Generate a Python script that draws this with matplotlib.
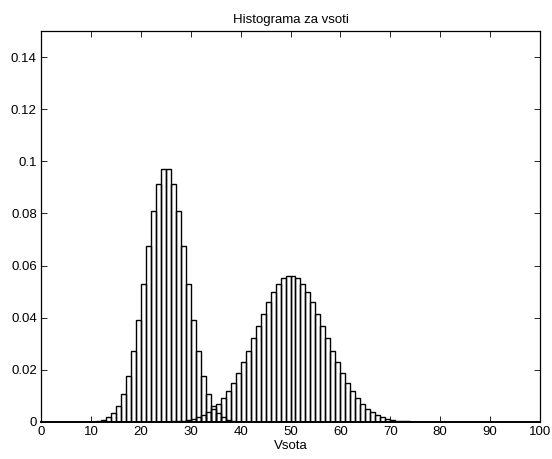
import matplotlib
matplotlib.use('Agg')
import matplotlib.pyplot as plt
from matplotlib.ticker import FormatStrFormatter

# prva vsota (levi vrh)
bins_a = list(range(11, 39))
vals_a = [0.0004, 0.0009, 0.0018, 0.0035, 0.0063, 0.0109, 0.0178, 0.0271,
          0.0391, 0.0529, 0.0674, 0.0809, 0.0913, 0.0970, 0.0970, 0.0913,
          0.0809, 0.0674, 0.0529, 0.0391, 0.0271, 0.0178, 0.0109, 0.0063,
          0.0035, 0.0018, 0.0009, 0.0004]

# druga vsota (desni vrh)
bins_b = list(range(26, 74))
vals_b = [0.0002, 0.0004, 0.0005, 0.0008, 0.0013, 0.0018, 0.0026, 0.0037,
          0.0051, 0.0069, 0.0091, 0.0118, 0.0150, 0.0187, 0.0229, 0.0274,
          0.0321, 0.0369, 0.0416, 0.0460, 0.0498, 0.0529, 0.0551, 0.0562,
          0.0562, 0.0551, 0.0529, 0.0498, 0.0460, 0.0416, 0.0369, 0.0321,
          0.0274, 0.0229, 0.0187, 0.0150, 0.0118, 0.0091, 0.0069, 0.0051,
          0.0037, 0.0026, 0.0018, 0.0013, 0.0008, 0.0005, 0.0004, 0.0002]

x_ticks = list(range(0, 101, 10))
y_ticks = [0, 0.02, 0.04, 0.06, 0.08, 0.1, 0.12, 0.14]


def main():
    plt.rcParams['font.family'] = ['Liberation Sans', 'DejaVu Sans']
    plt.rcParams['font.size'] = 9.5
    fig = plt.figure(figsize=(5.52, 4.59), dpi=100)
    ax = fig.add_axes([41 / 552, 37 / 459, 499 / 552, 391 / 459])

    ax.bar(bins_a, vals_a, width=1, align='edge', facecolor='none',
           edgecolor='black', linewidth=1.0)
    ax.bar(bins_b, vals_b, width=1, align='edge', facecolor='none',
           edgecolor='black', linewidth=1.0)

    ax.set_xlim(0, 100)
    ax.set_ylim(0, 0.15)
    ax.set_xticks(x_ticks)
    ax.set_yticks(y_ticks)
    ax.yaxis.set_major_formatter(FormatStrFormatter('%g'))
    ax.tick_params(direction='in', top=True, right=True, length=4, width=0.6,
                   labelsize=9.5, colors='black', pad=3)
    for s in ax.spines.values():
        s.set_linewidth(0.9)
    ax.spines['bottom'].set_linewidth(1.4)

    ax.set_title('Histograma za vsoti', fontsize=9.5, pad=6)
    ax.set_xlabel('Vsota', fontsize=9.5, labelpad=1)

    fig.savefig('out.png', dpi=100)


main()
